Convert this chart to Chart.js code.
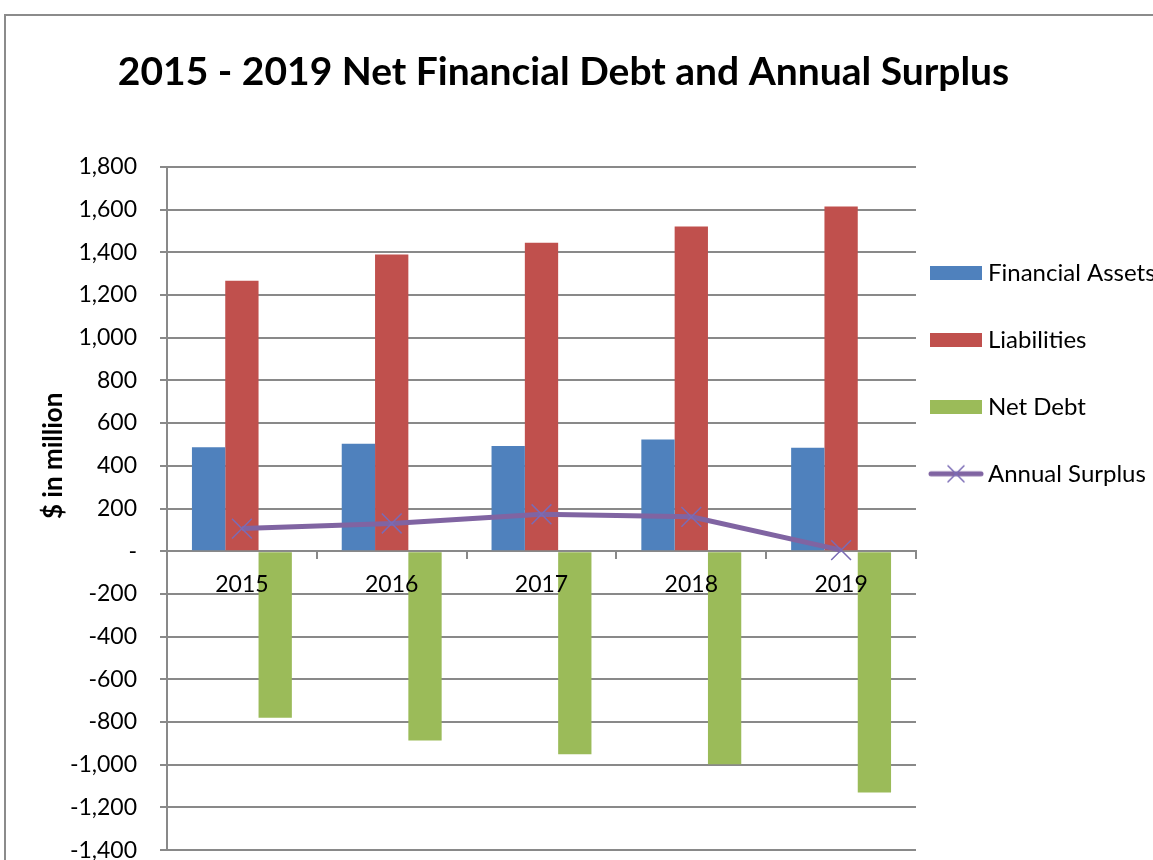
<!DOCTYPE html>
<html>
<head>
<meta charset="utf-8">
<script src="https://cdn.jsdelivr.net/npm/chart.js@4.4.1/dist/chart.umd.min.js"></script>
<style>
  html, body { margin: 0; padding: 0; background: #fff; overflow: hidden; }
  body { width: 1153px; height: 860px; position: relative; }
  /* outer chart frame, right and bottom edges fall outside the window */
  #frame { position: absolute; left: 4px; top: 14px; width: 1300px; height: 1000px;
           border-left: 2px solid #8b8b8b; border-top: 2px solid #8b8b8b; }
  #chart { position: absolute; left: -26px; top: 17px; }
</style>
</head>
<body>
<div id="frame"></div>
<canvas id="chart" width="1179" height="870"></canvas>
<script>
// data ($ million)
const years = ['2015', '2016', '2017', '2018', '2019'];
const financialAssets = [487, 503, 493, 523, 484];
const liabilities = [1267, 1389, 1444, 1520, 1614];
const netDebt = [-780, -886, -951, -997, -1130];
const annualSurplus = [106, 130, 173, 161, 5];

// value axis range
const yMin = -1400;
const yMax = 1800;
const yStep = 200;

const BLUE = '#4F81BD';
const RED = '#C0504D';
const GREEN = '#9BBB59';
const PURPLE = '#8064A2';
const MARKER = '#7A6BB5';
const GRID = '#898989';
const FONT = 'Lato';

// little legend symbols
function boxIcon(color) {
    const c = document.createElement('canvas');
    c.width = 52; c.height = 14;
    const g = c.getContext('2d');
    g.fillStyle = color;
    g.fillRect(0, 0, 52, 14);
    return c;
}
function lineIcon() {
    const c = document.createElement('canvas');
    c.width = 56; c.height = 20;
    const g = c.getContext('2d');
    g.strokeStyle = PURPLE;
    g.lineWidth = 5;
    g.lineCap = 'round';
    g.beginPath(); g.moveTo(3, 10); g.lineTo(53, 10); g.stroke();
    g.strokeStyle = MARKER;
    g.lineWidth = 1.5;
    g.beginPath();
    g.moveTo(20, 2); g.lineTo(36, 18);
    g.moveTo(36, 2); g.lineTo(20, 18);
    g.stroke();
    return c;
}
const legendIcons = [boxIcon(BLUE), boxIcon(RED), boxIcon(GREEN), lineIcon()];

// rotated "$ in million" label left of the value axis
const yAxisTitle = {
    id: 'yAxisTitle',
    afterDraw(chart) {
        const { ctx, chartArea } = chart;
        ctx.save();
        ctx.translate(chartArea.left - 113, chartArea.top + 289);
        ctx.rotate(-Math.PI / 2);
        ctx.font = 'bold 26px ' + FONT;
        ctx.fillStyle = '#000';
        ctx.textAlign = 'center';
        ctx.textBaseline = 'middle';
        ctx.fillText('$ in million', 0, 0);
        ctx.restore();
    }
};

const ctx = document.getElementById('chart').getContext('2d');
new Chart(ctx, {
    type: 'bar',
    data: {
        labels: years,
        datasets: [
            { label: 'Financial Assets', data: financialAssets, backgroundColor: BLUE },
            { label: 'Liabilities', data: liabilities, backgroundColor: RED },
            { label: 'Net Debt', data: netDebt, backgroundColor: GREEN },
            {
                type: 'line',
                label: 'Annual Surplus',
                data: annualSurplus,
                order: -1,
                borderColor: PURPLE,
                borderWidth: 5,
                tension: 0,
                pointStyle: 'crossRot',
                pointRadius: 14,
                pointBorderColor: MARKER,
                pointBackgroundColor: MARKER,
                pointBorderWidth: 1.5
            }
        ]
    },
    options: {
        responsive: false,
        animation: false,
        datasets: {
            bar: { categoryPercentage: 0.667, barPercentage: 1 }
        },
        layout: { padding: { left: 0, right: 0, top: 0, bottom: 23 } },
        scales: {
            x: {
                position: { y: 0 },
                grid: { drawOnChartArea: false, color: GRID, lineWidth: 2, tickLength: 7, offset: true },
                border: { color: GRID, width: 2 },
                ticks: { padding: 13, color: '#000', font: { family: FONT, size: 23 }, z: 1 }
            },
            y: {
                min: yMin,
                max: yMax,
                afterFit(scale) { scale.width = 193; },
                grid: { color: GRID, lineWidth: 2, tickLength: 7 },
                border: { color: GRID, width: 2 },
                ticks: {
                    stepSize: yStep,
                    padding: 23,
                    color: '#000',
                    font: { family: FONT, size: 23 },
                    callback: v => v === 0 ? '-' : v.toLocaleString('en-US')
                }
            }
        },
        plugins: {
            tooltip: { enabled: false },
            title: {
                display: true,
                text: '2015 - 2019 Net Financial Debt and Annual Surplus',
                color: '#000',
                font: { family: FONT, size: 39, weight: 'bold' },
                padding: { top: 32, bottom: 71 }
            },
            legend: {
                position: 'right',
                align: 'start',
                fullSize: false,
                maxWidth: 237,
                title: { display: true, text: '', font: { size: 10 }, padding: { top: 62, bottom: 0 } },
                labels: {
                    usePointStyle: true,
                    pointStyleWidth: 40,
                    boxHeight: 14,
                    padding: 20,
                    color: '#000',
                    font: { family: FONT, size: 24, lineHeight: 23.5 / 24 },
                    generateLabels(chart) {
                        // two-line text keeps the legend rows spread out
                        return chart.data.datasets.map((ds, i) => ({
                            text: [ds.label, ''],
                            pointStyle: legendIcons[i],
                            fillStyle: ds.backgroundColor,
                            strokeStyle: ds.borderColor,
                            fontColor: '#000',
                            lineWidth: 0,
                            hidden: false,
                            datasetIndex: i
                        }));
                    }
                }
            }
        }
    },
    plugins: [yAxisTitle]
});
</script>
</body>
</html>
